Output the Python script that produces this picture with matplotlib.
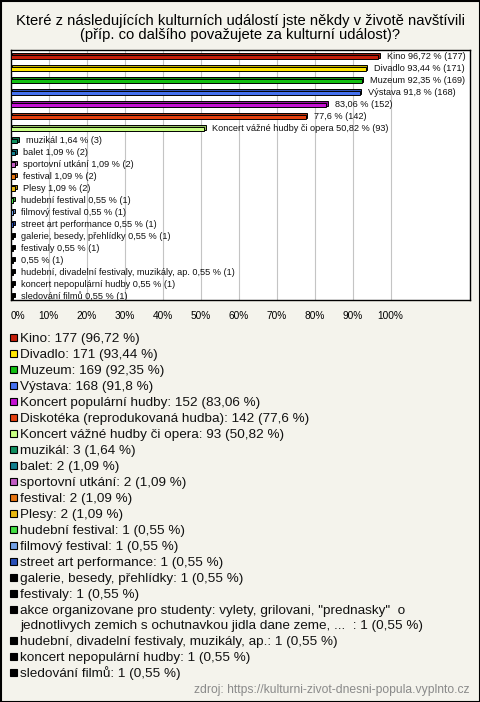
import matplotlib
matplotlib.use("Agg")
import matplotlib.pyplot as plt
from matplotlib.patches import Rectangle
import matplotlib.colors as mcolors

plt.rcParams['font.family'] = ['Liberation Sans', 'DejaVu Sans']

# data
names = ['Kino', 'Divadlo', 'Muzeum', 'Výstava', 'Koncert populární hudby',
         'Diskotéka (reprodukovaná hudba)', 'Koncert vážné hudby či opera',
         'muzikál', 'balet', 'sportovní utkání', 'festival', 'Plesy',
         'hudební festival', 'filmový festival', 'street art performance',
         'galerie, besedy, přehlídky', 'festivaly',
         'akce organizovane pro studenty: vylety, grilovani, "prednasky"  o\n'
         'jednotlivych zemich s ochutnavkou jidla dane zeme, ...  ',
         'hudební, divadelní festivaly, muzikály, ap.',
         'koncert nepopulární hudby', 'sledování filmů']
# names shown next to bars (long ones are left out in the original)
bar_names = ['Kino', 'Divadlo', 'Muzeum', 'Výstava', '', '',
             'Koncert vážné hudby či opera', 'muzikál', 'balet',
             'sportovní utkání', 'festival', 'Plesy', 'hudební festival',
             'filmový festival', 'street art performance',
             'galerie, besedy, přehlídky', 'festivaly', '',
             'hudební, divadelní festivaly, muzikály, ap.',
             'koncert nepopulární hudby', 'sledování filmů']
counts = [177, 171, 169, 168, 152, 142, 93, 3, 2, 2, 2, 2,
          1, 1, 1, 1, 1, 1, 1, 1, 1]
percents = [96.72, 93.44, 92.35, 91.8, 83.06, 77.6, 50.82, 1.64, 1.09, 1.09,
            1.09, 1.09, 0.55, 0.55, 0.55, 0.55, 0.55, 0.55, 0.55, 0.55, 0.55]
colors = ['#c41e0a', '#ffe600', '#12c012', '#4571f0', '#c412d2', '#e4400e',
          '#c8ff82', '#109060', '#12808f', '#c25cc4', '#e67410', '#e8b810',
          '#44e044', '#72a0e6', '#2a50b8', '#000000', '#000000', '#000000',
          '#000000', '#000000', '#000000']
ticks = [0, 10, 20, 30, 40, 50, 60, 70, 80, 90, 100]

W, H = 480, 702
bg = '#f4f3ec'


def fmt(p):
    return str(p).replace('.', ',')


fig = plt.figure(figsize=(W / 100, H / 100), dpi=100, facecolor=bg)

# plot area
ax = fig.add_axes([10.7 / W, 1 - 299.5 / H, (470 - 10.7) / W, (299.5 - 50.5) / H])
ax.set_facecolor('white')
ax.set_xlim(0, (470 - 10.7) / 3.8)
ax.set_ylim(20.25, -0.54)
for s in ax.spines.values():
    s.set_color('black')
    s.set_linewidth(1)
for t in ticks[1:]:
    ax.axvline(t, color='#c4c4c4', lw=0.8, zorder=0)

rows = list(range(len(names)))
dx, dy, h = 0.45, 0.13, 0.38
for i in rows:
    c = colors[i]
    dark = [x * 0.75 for x in mcolors.to_rgb(c)]
    ax.barh(i - dy, percents[i], left=dx, height=h, color=dark,
            edgecolor='black', lw=0.7, zorder=2)
    ax.barh(i, percents[i], height=h, color=c, edgecolor='black', lw=0.7, zorder=3)
    lab = f'{fmt(percents[i])} % ({counts[i]})'
    if bar_names[i]:
        lab = bar_names[i] + ' ' + lab
    ax.annotate(lab, xy=(percents[i] + dx, i), xytext=(5, 0),
                textcoords='offset points', va='center', ha='left',
                fontsize=6.6, color='#111111', zorder=4)

ax.set_xticks(ticks)
ax.set_xticklabels([f'{t}%' for t in ticks], fontsize=7.3)
ax.get_xticklabels()[0].set_ha('left')
ax.tick_params(axis='x', length=0, pad=8.5)
ax.set_yticks([])

# overlay in pixel coordinates for title, legend, frame
ov = fig.add_axes([0, 0, 1, 1], facecolor='none')
ov.set_xlim(0, W)
ov.set_ylim(H, 0)
ov.axis('off')
ov.add_patch(Rectangle((0.5, 0.5), W - 1, H - 1, fill=False, ec='black', lw=1.5))

ov.text(240, 21, 'Které z následujících kulturních událostí jste někdy v životě navštívili',
        ha='center', va='center', fontsize=10.6)
ov.text(240, 35.5, '(příp. co dalšího považujete za kulturní událost)?',
        ha='center', va='center', fontsize=10.6)

y = 337.5
for i in rows:
    lab = f'{names[i]}: {counts[i]} ({fmt(percents[i])} %)'
    ov.add_patch(Rectangle((10, y - 3.5), 7, 7, fc=colors[i], ec='black', lw=0.8))
    for k, line in enumerate(lab.split('\n')):
        ov.text(20.5, y + 4.5 + k * 14.5, line, ha='left', va='baseline',
                fontsize=9.7, color='#111111')
        if k > 0:
            y += 14.5
    y += 16.0

ov.text(470, 690, 'zdroj: https://kulturni-zivot-dnesni-popula.vyplnto.cz',
        ha='right', va='center', fontsize=8.7, color='#8a8a8a')

fig.savefig('out.png', dpi=100, facecolor=bg)
